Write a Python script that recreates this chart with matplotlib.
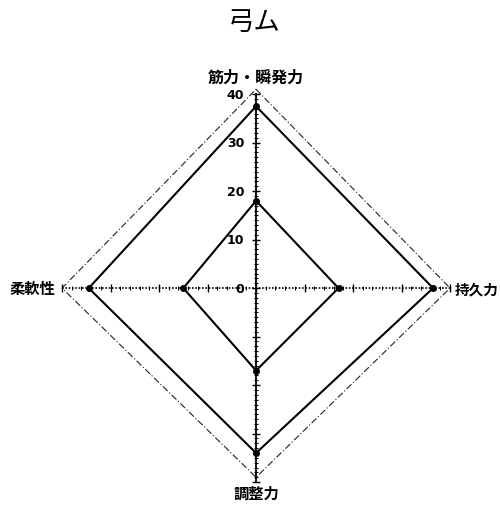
import numpy as np
import matplotlib
matplotlib.use("Agg")
import matplotlib.pyplot as plt

plt.rcParams['font.family'] = ['Noto Sans CJK JP', 'DejaVu Sans']

title = "弓ム"
labels = ["筋力・瞬発力", "持久力", "調整力", "柔軟性"]
inner = [18, 17, 17, 15]
outer = [37.5, 36.5, 34, 34.5]
ref = [41, 40, 39, 40]
rmax = 40
tick_vals = [0, 10, 20, 30, 40]

# direction of each axis: top, right, bottom, left
dirs = np.array([[0, 1], [1, 0], [0, -1], [-1, 0]], dtype=float)


def to_xy(vals):
    v = np.asarray(vals, dtype=float)[:, None] * dirs
    return np.vstack([v, v[:1]])


fig = plt.figure(figsize=(5, 5.06), dpi=100)
ax = fig.add_axes([0, 0, 1, 1])
ax.set_xlim(-52.8, 50.3)
ax.set_ylim(-44.7, 59.6)
ax.set_aspect("equal")
ax.axis("off")

# axes: vertical solid with dense ticks, horizontal dotted
ax.plot([0, 0], [-rmax, rmax], color="black", lw=1.3, zorder=2)
ax.plot([-rmax, rmax], [0, 0], color="black", lw=1.2, ls=(0, (1, 1)), zorder=2)
fine = np.arange(-rmax, rmax + 1, 1)
major = np.arange(-rmax, rmax + 1, 10)
ax.plot(np.zeros_like(fine), fine, ls="none", marker="_", ms=3, mew=0.8, color="black")
ax.plot(np.zeros_like(major), major, ls="none", marker="_", ms=6, mew=1.0, color="black")
mid = np.arange(-rmax, rmax + 1, 2)
ax.plot(mid, np.zeros_like(mid), ls="none", marker="|", ms=2.5, mew=0.7, color="black")
ax.plot(major, np.zeros_like(major), ls="none", marker="|", ms=6, mew=1.0, color="black")

for t in tick_vals:
    ax.text(-2.4, t, str(t), ha="right", va="center", fontsize=9,
            fontweight="bold", family=["DejaVu Sans"])

# series
xy = to_xy(ref)
ax.plot(xy[:, 0], xy[:, 1], color="#222222", lw=0.8, ls=(0, (6, 2, 1, 2)), zorder=3)
for vals in (outer, inner):
    xy = to_xy(vals)
    ax.plot(xy[:, 0], xy[:, 1], color="black", lw=1.5, zorder=4)
    ax.plot(xy[:-1, 0], xy[:-1, 1], ls="none", marker="o", ms=4,
            color="black", zorder=5)

# axis labels
ax.text(0, 43.6, labels[0], ha="center", va="center", fontsize=11.5, fontweight="bold")
ax.text(40.9, 0, labels[1], ha="left", va="center", fontsize=10.5, fontweight="bold")
ax.text(0, -42.2, labels[2], ha="center", va="center", fontsize=11, fontweight="bold")
ax.text(-41.3, 0, labels[3], ha="right", va="center", fontsize=11, fontweight="bold")

ax.text(-0.4, 55.0, title, ha="center", va="center", fontsize=19)

fig.savefig("out.png", dpi=100)
